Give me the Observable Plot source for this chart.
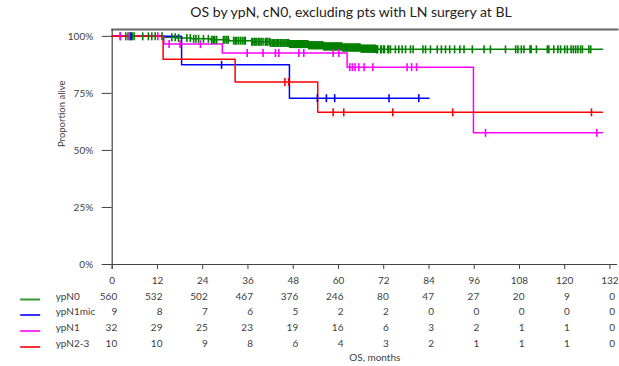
<!DOCTYPE html>
<html>
<head>
<meta charset="utf-8">
<script src="https://cdn.jsdelivr.net/npm/d3@7"></script>
<script src="https://cdn.jsdelivr.net/npm/@observablehq/plot@0.6"></script>
<style>
  body { margin: 0; background: #fff; }
  #wrap { position: relative; width: 619px; height: 366px; font-family: Lato, "Open Sans", sans-serif; }
  #title { position: absolute; left: 351px; top: 3px; transform: translateX(-50%); white-space: nowrap; font-size: 14px; line-height: 18px; color: #222; }
  #chart { position: absolute; left: 0; top: 26px; }
</style>
</head>
<body>
<div id="wrap">
  <div id="title">OS by ypN, cN0, excluding pts with LN surgery at BL</div>
  <div id="chart"></div>
</div>
<script>
// ---- data ----
const titleText = "OS by ypN, cN0, excluding pts with LN surgery at BL";
const xTicks = [0, 12, 24, 36, 48, 60, 72, 84, 96, 108, 120, 132];
const yTicks = [0, 0.25, 0.5, 0.75, 1];
const groups = ["ypN0", "ypN1mic", "ypN1", "ypN2-3"];
const colors = ["#008000", "#0000ff", "#ff00ff", "#ff0000"];

// number at risk
const riskTimes = [0, 12, 24, 36, 48, 60, 72, 84, 96, 108, 120, 132];
const riskN0    = [560, 532, 502, 467, 376, 246, 80, 47, 27, 20, 9, 0];
const riskN1mic = [9, 8, 7, 6, 5, 2, 2, 0, 0, 0, 0, 0];
const riskN1    = [32, 29, 25, 23, 19, 16, 6, 3, 2, 1, 1, 0];
const riskN23   = [10, 10, 9, 8, 6, 4, 3, 2, 1, 1, 1, 0];

// ypN0: event times and survival after each event
const n0EventTimes = [14, 17, 21, 26, 31, 37, 42, 47, 52, 56, 61, 66, 70];
const n0Survival   = [0.996, 0.993, 0.989, 0.985, 0.981, 0.976, 0.971, 0.966, 0.961, 0.956, 0.951, 0.946, 0.943];
const n0End = 130;
const n0Censor = [2.2, 3.6, 4.2, 4.8, 5.3, 5.8, 8.1, 9.6, 10.5, 11.4, 13.2, 15.8, 16.7, 17.6, 19.8, 20.7, 21.6, 22.2, 22.9,
  24.2, 25.5, 26.4, 26.8, 27.2, 27.7, 29.5, 29.9, 30.4, 30.8, 32.2, 32.6, 33.0, 33.5, 34.0, 34.5, 35.0, 35.3,
  37.0, 37.3, 37.7, 38.1, 38.4, 38.9, 39.1, 39.5, 40.0, 40.6, 41.0, 41.3, 41.8, 42.0, 42.4, 42.8, 43.1, 43.5, 43.9, 44.2,
  44.6, 45.0, 45.3, 45.7, 46.1, 46.4, 46.8, 47.1, 47.3, 47.5, 47.7, 47.9, 48.1, 48.2, 48.4, 48.6, 48.8, 48.9, 49.1, 49.3,
  49.5, 49.7, 49.9, 50.0, 50.2, 50.4, 50.6, 50.8, 51.0, 51.1, 51.3, 51.5, 51.7, 51.9, 52.1, 52.2, 52.4, 52.6, 52.8, 53.0,
  53.2, 53.3, 53.5, 53.7, 53.9, 54.0, 54.2, 54.4, 54.6, 54.8, 55.0, 55.1, 55.3, 55.5, 55.7, 55.9, 56.1, 56.2, 56.4, 56.6,
  56.8, 56.9, 57.1, 57.3, 57.5, 57.7, 57.9, 58.0, 58.2, 58.4, 58.6, 58.8, 59.0, 59.1, 59.3, 59.5, 59.7, 59.8, 60.0, 60.2,
  60.4, 60.6, 60.8, 60.9, 61.1, 61.3, 61.5, 61.7, 61.9, 62.0, 62.2, 62.4, 62.6, 62.7, 62.9, 63.1, 63.3, 63.5, 63.7, 63.8,
  64.0, 64.2, 64.4, 64.6, 64.8, 64.9, 65.1, 65.3, 65.5, 65.6, 65.8, 66.0, 66.2, 66.4, 66.6, 66.7, 66.9, 67.1, 67.3, 67.5,
  67.7, 67.8, 68.0, 68.2, 68.4, 68.5, 68.7, 68.9, 69.1, 69.3, 69.5, 69.6, 69.8, 70.0, 70.2, 70.4,
  71.2, 71.4, 72.0, 72.2, 73.1, 73.3, 73.8, 75.1, 76.0, 76.9, 77.8, 79.1, 79.8, 82.4, 83.1, 84.4, 86.2, 87.3, 88.4, 89.5, 90.8, 92.2, 93.3,
  95.5, 98.6, 100.3, 104.3, 107.0, 107.6, 108.5, 109.2, 110.8, 111.1, 112.5, 115.4, 115.8, 117.1, 118.2, 118.9, 120.0,
  120.7, 121.7, 122.3, 122.9, 123.5, 124.2, 124.7, 126.4, 126.9];

// ypN1mic
const n1micEventTimes = [18.4, 47];
const n1micSurvival   = [0.875, 0.729];
const n1micEnd = 84;
const n1micCensor = [5.0, 29.0, 54.4, 56.8, 59.0, 73.4, 81.3];

// ypN1
const n1EventTimes = [13.7, 29.2, 62.3, 95.8];
const n1Survival   = [0.966, 0.927, 0.865, 0.577];
const n1End = 130;
const n1Censor = [2.1, 4.5, 12.1, 15.1, 18.0, 23.4, 35.8, 40.0, 43.3, 44.2, 49.5, 50.8, 58.6, 60.1, 63.0, 63.7, 64.4,
  65.4, 66.8, 69.1, 78.2, 79.4, 80.7, 99.0, 128.5];

// ypN2-3
const n23EventTimes = [13.5, 32.6, 54.5];
const n23Survival   = [0.9, 0.8, 0.667];
const n23End = 130;
const n23Censor = [45.8, 46.8, 58.6, 61.4, 74.4, 90.3, 127.1];

const xLabel = "OS, months";
const yLabel = "Proportion alive";

// ---- build tables ----
const series = [
  {g: groups[0], times: n0EventTimes, surv: n0Survival, end: n0End, censor: n0Censor, risk: riskN0},
  {g: groups[1], times: n1micEventTimes, surv: n1micSurvival, end: n1micEnd, censor: n1micCensor, risk: riskN1mic},
  {g: groups[2], times: n1EventTimes, surv: n1Survival, end: n1End, censor: n1Censor, risk: riskN1},
  {g: groups[3], times: n23EventTimes, surv: n23Survival, end: n23End, censor: n23Censor, risk: riskN23}
];
function survAt(s, t) {
  let v = 1;
  s.times.forEach((tt, i) => { if (tt <= t) v = s.surv[i]; });
  return v;
}
const linePts = [], censorPts = [], riskPts = [];
series.forEach((s, k) => {
  linePts.push({g: s.g, t: 0, s: 1});
  s.times.forEach((t, i) => linePts.push({g: s.g, t, s: s.surv[i]}));
  linePts.push({g: s.g, t: s.end, s: s.surv[s.surv.length - 1]});
  s.censor.forEach(t => censorPts.push({g: s.g, t, s: survAt(s, t)}));
  riskTimes.forEach((t, i) => riskPts.push({g: s.g, k, t, n: s.risk[i]}));
});

const vbar = {draw(ctx, size) { const h = Math.sqrt(size / Math.PI); ctx.moveTo(0, -h); ctx.lineTo(0, h); }};
const hbar = {draw(ctx, size) { const h = Math.sqrt(size / Math.PI); ctx.moveTo(-h, 0); ctx.lineTo(h, 0); }};

const rowDy = [35, 50.5, 66.5, 82.5];
const txt = "#404040";

const marks = [
  Plot.frame({anchor: "top", stroke: "#666", strokeWidth: 2}),
  Plot.ruleY([0], {stroke: "#444", strokeWidth: 1.2}),
  Plot.ruleX([0], {stroke: "#444", strokeWidth: 1.2, insetBottom: -5}),
  Plot.line(linePts, {x: "t", y: "s", z: "g", stroke: "g", curve: "step-after", strokeWidth: 1.5}),
  Plot.dot(censorPts, {x: "t", y: "s", stroke: "g", symbol: vbar, r: 4, strokeWidth: 1.6}),
  Plot.text([yLabel], {frameAnchor: "left", rotate: -90, dx: -50, fill: txt, fontSize: 9.5}),
  Plot.text([xLabel], {frameAnchor: "bottom-left", dx: 237, dy: 96, textAnchor: "start", fill: txt, fontSize: 10})
];
groups.forEach((g, k) => {
  marks.push(Plot.text(riskPts.filter(d => d.k === k), {x: "t", text: "n", frameAnchor: "bottom", dy: rowDy[k], dx: 5, textAnchor: "end", fill: txt, fontSize: 10}));
  marks.push(Plot.text([g], {frameAnchor: "bottom-left", dx: -56.5, dy: rowDy[k], textAnchor: "start", fill: txt, fontSize: 10}));
  marks.push(Plot.dot([g], {frameAnchor: "bottom-left", dx: -82, dy: rowDy[k], symbol: hbar, r: 10, stroke: colors[k], strokeWidth: 2, strokeOpacity: 0.8}));
});

const chart = Plot.plot({
  width: 619,
  height: 340,
  marginLeft: 111.7,
  marginRight: 2,
  marginTop: 3,
  marginBottom: 102,
  style: {fontFamily: "Lato, 'Open Sans', sans-serif", fontSize: "10px", color: txt, background: "transparent"},
  x: {domain: [0, 134], ticks: xTicks, tickSize: 5, tickPadding: 7, label: null, tickFormat: d => String(d)},
  y: {domain: [0, 1.03], ticks: yTicks, tickSize: 10, tickPadding: 9, label: null, tickFormat: d3.format(".0%")},
  color: {domain: groups, range: colors},
  marks
});
document.getElementById("chart").appendChild(chart);
</script>
</body>
</html>
